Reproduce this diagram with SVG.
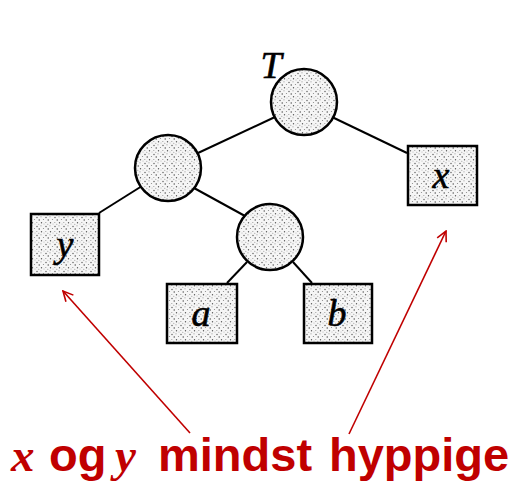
<svg xmlns="http://www.w3.org/2000/svg" width="512" height="483" viewBox="0 0 512 483">
<defs>
<pattern id="stip" width="9" height="9" patternUnits="userSpaceOnUse">
<rect width="9" height="9" fill="#f6f6f6"/>
<circle cx="1" cy="1.5" r="0.7" fill="#555"/>
<circle cx="5" cy="0.8" r="0.6" fill="#999"/>
<circle cx="3.2" cy="4" r="0.7" fill="#444"/>
<circle cx="7.5" cy="3.5" r="0.6" fill="#888"/>
<circle cx="0.8" cy="6.5" r="0.6" fill="#999"/>
<circle cx="5.5" cy="6.8" r="0.7" fill="#555"/>
<circle cx="8" cy="8" r="0.5" fill="#aaa"/>
<circle cx="2.8" cy="8.2" r="0.5" fill="#888"/>
</pattern>
<marker id="ah" viewBox="0 0 12 12" refX="11" refY="6" markerWidth="12" markerHeight="12" markerUnits="userSpaceOnUse" orient="auto">
<path d="M1,1 L11,6 L1,11" fill="none" stroke="#c00000" stroke-width="1.6"/>
</marker>
</defs>
<style>
.n{fill:url(#stip);stroke:#000;stroke-width:2.5}
.e{stroke:#000;stroke-width:2;fill:none}
.lbl{font-family:"Liberation Serif",serif;font-style:italic;font-size:38px;fill:#000;stroke:#000;stroke-width:0.6;text-anchor:middle}
.r{stroke:#c00000;stroke-width:1.6;fill:none}
.cap{font-family:"Liberation Sans",Arial,sans-serif;font-weight:bold;font-size:47px;fill:#c00000}
.capi{font-family:"Liberation Serif",serif;font-style:italic;font-weight:bold;font-size:47px;fill:#c00000}
</style>
<g id="connectors">
<line class="e" x1="275" y1="117" x2="198" y2="153"/>
<line class="e" x1="332" y1="117" x2="407" y2="153"/>
<line class="e" x1="142" y1="186" x2="99" y2="213"/>
<line class="e" x1="194" y1="188" x2="245" y2="216"/>
<line class="e" x1="247" y1="262" x2="227" y2="283"/>
<line class="e" x1="293" y1="262" x2="312" y2="283"/>
<line class="r" x1="190" y1="433" x2="63" y2="291" marker-end="url(#ah)"/>
<line class="r" x1="349" y1="434" x2="446" y2="231" marker-end="url(#ah)"/>
</g>
<g id="root"><circle class="n" cx="304" cy="102" r="33"/><text class="lbl" x="271" y="78" font-size="40">T</text></g>
<g id="left"><circle class="n" cx="168" cy="168" r="33"/></g>
<g id="mid"><circle class="n" cx="270" cy="237" r="33"/></g>
<g id="y"><rect class="n" x="31" y="214" width="68" height="61"/><text class="lbl" x="65" y="257">y</text></g>
<g id="a"><rect class="n" x="167" y="284" width="70" height="59"/><text class="lbl" x="201" y="326">a</text></g>
<g id="b"><rect class="n" x="304" y="284" width="68" height="59"/><text class="lbl" x="337" y="326">b</text></g>
<g id="x"><rect class="n" x="408" y="146" width="69" height="59"/><text class="lbl" x="441" y="188">x</text></g>
<g id="caption">
<text class="capi" x="11" y="471">x</text>
<text class="cap" x="49" y="471">og</text>
<text class="capi" x="115" y="471">y</text>
<text class="cap" x="158" y="471">mindst</text>
<text class="cap" x="329" y="471">hyppige</text>
</g>
</svg>
